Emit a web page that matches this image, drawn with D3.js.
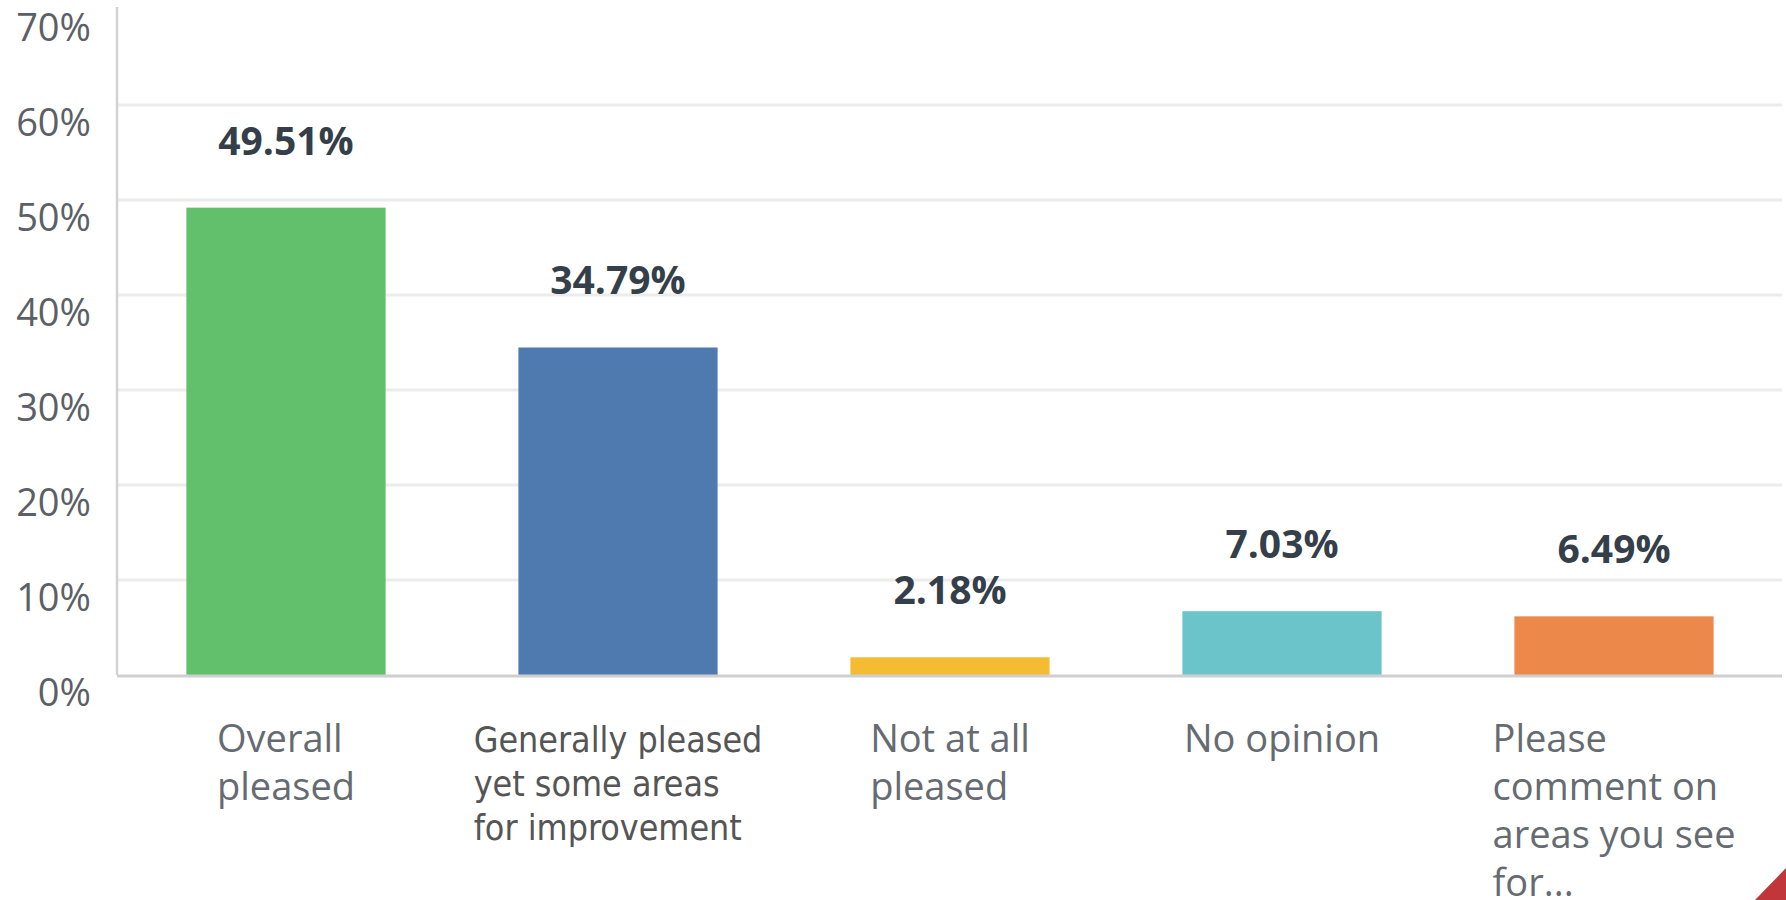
<!DOCTYPE html>
<style>
body {
  margin: 0;
  background: #fff;
}
.grid line {
  stroke: #ececec;
  stroke-width: 3;
}
</style>
<svg width="1786" height="900"></svg>
<script src="https://cdn.jsdelivr.net/npm/d3@7"></script>
<script>
// chart values
var categories = ["Overall pleased", "Generally pleased yet some areas for improvement", "Not at all pleased", "No opinion", "Please comment on areas you see for..."];
var labelLines = [["Overall", "pleased"], ["Generally pleased", "yet some areas", "for improvement"], ["Not at all", "pleased"], ["No opinion"], ["Please", "comment on", "areas you see", "for..."]];
var values = [49.51, 34.79, 2.18, 7.03, 6.49];
var barColors = ["#62bf6b", "#4e7ab0", "#f5bb33", "#6ac4c9", "#ed884b"];
var yTicks = [0, 10, 20, 30, 40, 50, 60, 70];

var svg = d3.select("svg");

var x = d3.scaleBand()
    .domain(categories)
    .range([120, 1780])
    .paddingInner(0.4)
    .paddingOuter(0.2);

var y = d3.scaleLinear()
    .domain([0, 70])
    .range([675, 10]);

// the bar tops sit a few px under the value in the source image
var barInset = 3;

// gridlines (no line at 0 or at the top)
svg.append("g")
    .attr("class", "grid")
  .selectAll("line")
  .data(yTicks.filter(function(d) { return d > 0 && d < 70; }))
  .enter().append("line")
    .attr("x1", 117)
    .attr("x2", 1782)
    .attr("y1", function(d) { return y(d); })
    .attr("y2", function(d) { return y(d); });

// y axis line
svg.append("line")
    .attr("x1", 117).attr("x2", 117)
    .attr("y1", 7).attr("y2", y(0))
    .attr("stroke", "#d2d2d2")
    .attr("stroke-width", 2.5);

// y tick labels (sit a little under their gridline)
svg.append("g")
  .selectAll("text")
  .data(yTicks)
  .enter().append("text")
    .attr("x", 91)
    .attr("y", function(d) { return y(d) + 31; })
    .attr("text-anchor", "end")
    .attr("font-family", "'Open Sans', sans-serif")
    .attr("font-size", 38)
    .attr("fill", "#5b6066")
    .text(function(d) { return d + "%"; });

// bars
var data = categories.map(function(c, i) { return {cat: c, value: values[i], color: barColors[i], lines: labelLines[i]}; });

svg.append("g")
  .selectAll("rect")
  .data(data)
  .enter().append("rect")
    .attr("x", function(d) { return x(d.cat); })
    .attr("y", function(d) { return y(d.value) + barInset; })
    .attr("width", x.bandwidth())
    .attr("height", function(d) { return y(0) - y(d.value) - barInset; })
    .attr("fill", function(d) { return d.color; });

// baseline
svg.append("line")
    .attr("x1", 117).attr("x2", 1782)
    .attr("y1", y(0) + 1).attr("y2", y(0) + 1)
    .attr("stroke", "#cfcfcf")
    .attr("stroke-width", 3);

// value labels
svg.append("g")
  .selectAll("text")
  .data(data)
  .enter().append("text")
    .attr("x", function(d) { return x(d.cat) + x.bandwidth() / 2; })
    .attr("y", function(d) { return y(d.value) - 50; })
    .attr("text-anchor", "middle")
    .attr("font-family", "'Open Sans', sans-serif")
    .attr("font-weight", "bold")
    .attr("font-size", 39)
    .attr("fill", "#343f49")
    .text(function(d) { return d.value.toFixed(2) + "%"; });

// category labels: left-aligned lines, block centred under the bar
svg.append("g")
  .selectAll("text")
  .data(data)
  .enter().append("text")
    .each(function(d, i) {
      var t = d3.select(this);
      var odd = i === 1;
      t.attr("font-family", odd ? "'DejaVu Sans Condensed', 'DejaVu Sans', sans-serif" : "'Open Sans', sans-serif")
        .attr("font-size", odd ? 35.5 : 38)
        .attr("fill", odd ? "#555555" : "#656b71")
        .attr("y", 752);
      d.lines.forEach(function(l, j) {
        t.append("tspan")
          .attr("x", 0)
          .attr("dy", j ? (odd ? 44 : 48) : 0)
          .text(l);
      });
      var w = this.getBBox().width;
      t.attr("transform", "translate(" + (x(d.cat) + x.bandwidth() / 2 - w / 2) + ",0)");
    });

// red corner decoration
svg.append("path")
    .attr("d", "M1755,900L1786,868L1786,900Z")
    .attr("fill", "#c0363a");
</script>
